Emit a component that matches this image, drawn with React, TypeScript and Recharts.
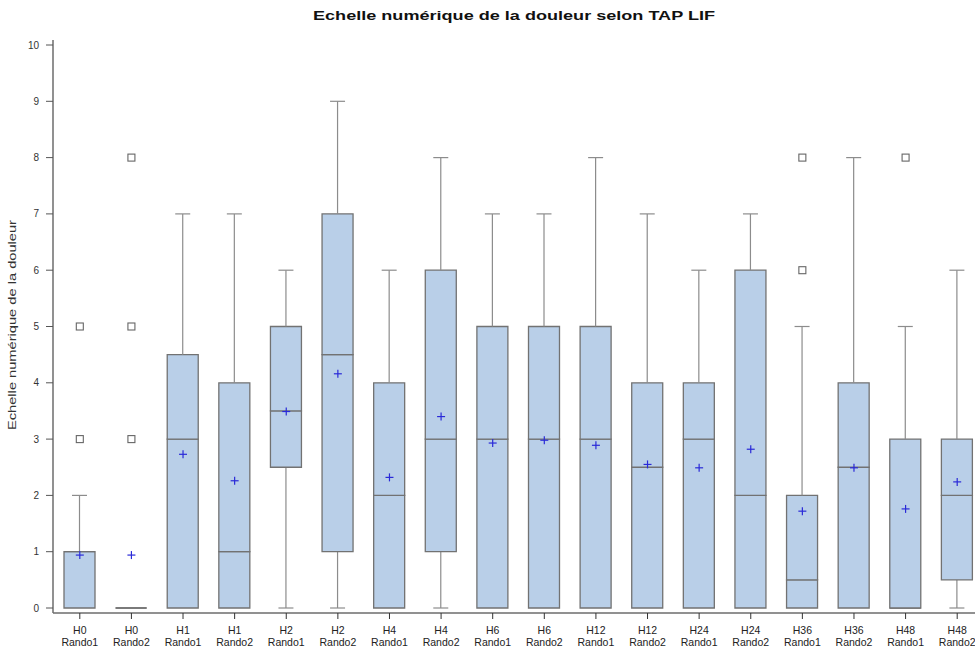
import React from 'react';
import { ComposedChart, Bar, Scatter, XAxis, YAxis } from 'recharts';

// ---- data ----
const hours = ['H0', 'H0', 'H1', 'H1', 'H2', 'H2', 'H4', 'H4', 'H6', 'H6', 'H12', 'H12', 'H24', 'H24', 'H36', 'H36', 'H48', 'H48'];
const groups = ['Rando1', 'Rando2', 'Rando1', 'Rando2', 'Rando1', 'Rando2', 'Rando1', 'Rando2', 'Rando1', 'Rando2', 'Rando1', 'Rando2', 'Rando1', 'Rando2', 'Rando1', 'Rando2', 'Rando1', 'Rando2'];
const mins = [0, 0, 0, 0, 0, 0, 0, 0, 0, 0, 0, 0, 0, 0, 0, 0, 0, 0];
const q1s = [0, 0, 0, 0, 2.5, 1, 0, 1, 0, 0, 0, 0, 0, 0, 0, 0, 0, 0.5];
const medians = [1, 0, 3, 1, 3.5, 4.5, 2, 3, 3, 3, 3, 2.5, 3, 2, 0.5, 2.5, 0, 2];
const q3s = [1, 0, 4.5, 4, 5, 7, 4, 6, 5, 5, 5, 4, 4, 6, 2, 4, 3, 3];
const maxs = [2, 0, 7, 7, 6, 9, 6, 8, 7, 7, 8, 7, 6, 7, 5, 8, 5, 6];
const means = [0.94, 0.94, 2.73, 2.26, 3.49, 4.16, 2.32, 3.4, 2.93, 2.98, 2.89, 2.55, 2.49, 2.82, 1.72, 2.49, 1.76, 2.24];
const outlierIndex = [0, 0, 1, 1, 1, 14, 14, 16];
const outlierValues = [3, 5, 3, 5, 8, 6, 8, 8];
const yTicks = [0, 1, 2, 3, 4, 5, 6, 7, 8, 9, 10];

const title = 'Echelle numérique de la douleur selon TAP LIF';
const yTitle = 'Echelle numérique de la douleur';

const categories = hours.map((h, i) => `${h} ${groups[i]}`);

const rows = categories.map((cat, i) => ({
  cat,
  base: mins[i],
  lowWhisker: q1s[i] - mins[i],
  boxLow: medians[i] - q1s[i],
  boxHigh: q3s[i] - medians[i],
  highWhisker: maxs[i] - q3s[i],
  mean: means[i],
}));

const outlierRows = outlierIndex.map((c, i) => ({ cat: categories[c], value: outlierValues[i] }));

// ---- styles ----
const FONT = "'Liberation Sans', Arial, sans-serif";
const AXIS = '#6c6c6c';
const BOX_FILL = '#b9cfe8';
const BOX_STROKE = '#727272';
const WHISKER = '#8c8c8c';
const MEAN = '#2a2ad8';
const CAP = 7.5;

const Empty = () => <g />;

const LowWhisker = (p: any) => {
  const { x, y, width, height } = p;
  if (!height || height <= 0) return <g />;
  const cx = x + width / 2;
  return (
    <g>
      <line x1={cx} x2={cx} y1={y} y2={y + height} stroke={WHISKER} strokeWidth={1.2} />
      <line x1={cx - CAP} x2={cx + CAP} y1={y + height} y2={y + height} stroke={WHISKER} strokeWidth={1.2} />
    </g>
  );
};

const HighWhisker = (p: any) => {
  const { x, y, width, height } = p;
  if (!height || height <= 0) return <g />;
  const cx = x + width / 2;
  return (
    <g>
      <line x1={cx} x2={cx} y1={y} y2={y + height} stroke={WHISKER} strokeWidth={1.2} />
      <line x1={cx - CAP} x2={cx + CAP} y1={y} y2={y} stroke={WHISKER} strokeWidth={1.2} />
    </g>
  );
};

const BoxPart = (p: any) => {
  const { x, y, width } = p;
  const h = Math.max(0, p.height || 0);
  return (
    <g>
      {h > 0 && <rect x={x} y={y} width={width} height={h} fill={BOX_FILL} />}
      <path d={`M${x},${y}H${x + width}V${y + h}H${x}Z`} fill="none" stroke={BOX_STROKE} strokeWidth={1.3} />
    </g>
  );
};

const MeanCross = (p: any) => {
  const { cx, cy } = p;
  if (cx == null || cy == null || isNaN(cx) || isNaN(cy)) return <g />;
  return (
    <g>
      <line x1={cx - 4} x2={cx + 4} y1={cy} y2={cy} stroke={MEAN} strokeWidth={1.2} />
      <line x1={cx} x2={cx} y1={cy - 4} y2={cy + 4} stroke={MEAN} strokeWidth={1.2} />
    </g>
  );
};

const OutlierSquare = (p: any) => {
  const { cx, cy } = p;
  if (cx == null || cy == null || isNaN(cx) || isNaN(cy)) return <g />;
  return <rect x={cx - 3.5} y={cy - 3.5} width={7} height={7} fill="#fff" stroke="#666" strokeWidth={1.1} />;
};

const XTick = (p: any) => {
  const { x, y, payload } = p;
  const [h, g] = String(payload.value).split(' ');
  return (
    <g>
      <text x={x} y={y + 12.5} textAnchor="middle" fontSize={10.5} fill="#222" fontFamily={FONT}>{h}</text>
      <text x={x} y={y + 24.5} textAnchor="middle" fontSize={10.5} fill="#222" fontFamily={FONT}>{g}</text>
    </g>
  );
};

export default function App() {
  return (
    <div style={{ position: 'fixed', left: 0, top: 0, width: 975, height: 648, overflow: 'hidden', background: '#fff' }}>
      <ComposedChart
        width={990}
        height={648}
        data={rows}
        margin={{ top: 40, right: 7, bottom: 0, left: 0 }}
        barCategoryGap={0}
      >
        <XAxis
          dataKey="cat"
          allowDuplicatedCategory={false}
          height={35}
          padding={{ left: 1, right: 0 }}
          tick={<XTick />}
          tickSize={6}
          interval={0}
          axisLine={{ stroke: AXIS, strokeWidth: 1.5 }}
          tickLine={{ stroke: '#333', strokeWidth: 1 }}
        />
        <XAxis
          xAxisId="top"
          orientation="top"
          dataKey="cat"
          allowDuplicatedCategory={false}
          height={0}
          padding={{ left: 1, right: 0 }}
          tick={false}
          tickLine={false}
          axisLine={{ stroke: AXIS, strokeWidth: 1.5 }}
        />
        <YAxis
          type="number"
          domain={[0, 10]}
          ticks={yTicks}
          interval={0}
          width={53}
          padding={{ top: 5, bottom: 5 }}
          tickSize={7}
          tickMargin={7}
          tick={{ fontSize: 10, fill: '#333', fontFamily: FONT }}
          axisLine={{ stroke: AXIS, strokeWidth: 1.5 }}
          tickLine={{ stroke: '#555', strokeWidth: 1 }}
        />
        <Bar dataKey="base" stackId="s" barSize={31} shape={<Empty />} isAnimationActive={false} />
        <Bar dataKey="lowWhisker" stackId="s" barSize={31} shape={<LowWhisker />} isAnimationActive={false} />
        <Bar dataKey="boxLow" stackId="s" barSize={31} shape={<BoxPart />} isAnimationActive={false} />
        <Bar dataKey="boxHigh" stackId="s" barSize={31} shape={<BoxPart />} isAnimationActive={false} />
        <Bar dataKey="highWhisker" stackId="s" barSize={31} shape={<HighWhisker />} isAnimationActive={false} />
        <Scatter dataKey="mean" shape={<MeanCross />} isAnimationActive={false} />
        <Scatter data={outlierRows} dataKey="value" shape={<OutlierSquare />} isAnimationActive={false} />
      </ComposedChart>
      <svg width={975} height={648} style={{ position: 'absolute', left: 0, top: 0, pointerEvents: 'none' }}>
        <text x={514} y={20} textAnchor="middle" fontSize={13} fontWeight="bold" fill="#111" fontFamily={FONT} textLength={402} lengthAdjust="spacingAndGlyphs">{title}</text>
        <text transform="translate(16,325) rotate(-90)" textAnchor="middle" fontSize={11} fill="#333" fontFamily={FONT} textLength={210} lengthAdjust="spacingAndGlyphs">{yTitle}</text>
      </svg>
    </div>
  );
}
